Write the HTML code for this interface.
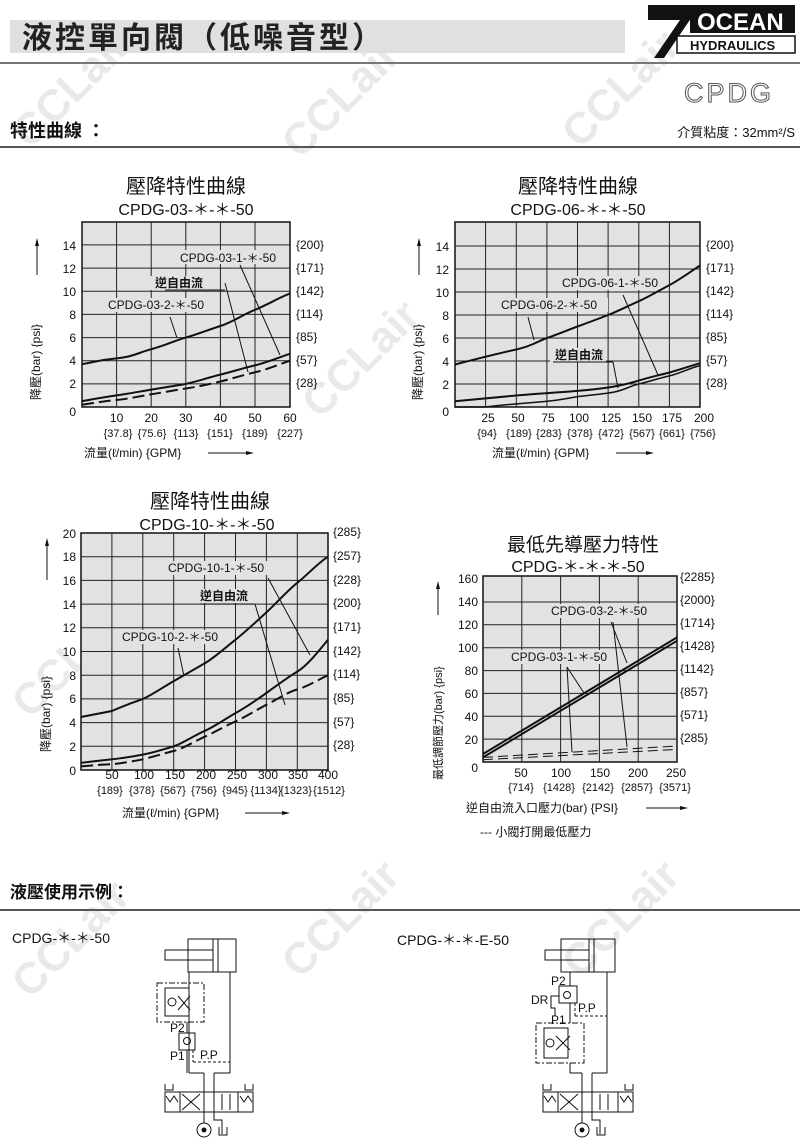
<!DOCTYPE html>
<html><head><meta charset="utf-8"><style>
html,body{margin:0;padding:0;background:#fff;}
body{width:800px;height:1147px;position:relative;overflow:hidden;font-family:"Liberation Sans","Noto Sans CJK TC",sans-serif;}
svg{position:absolute;left:0;top:0;}
text{font-family:"Liberation Sans","Noto Sans CJK TC",sans-serif;fill:#111;}
</style></head><body>
<svg width="800" height="1147" viewBox="0 0 800 1147">
<!-- watermarks -->
<g fill="#e6e6e6" font-size="44" font-weight="bold" opacity="0.8">
<text x="30" y="150" transform="rotate(-45 30 150)" style="fill:#e4e4e4">CCLair</text>
<text x="300" y="160" transform="rotate(-45 300 160)" style="fill:#e4e4e4">CCLair</text>
<text x="580" y="150" transform="rotate(-45 580 150)" style="fill:#e4e4e4">CCLair</text>
<text x="320" y="420" transform="rotate(-45 320 420)" style="fill:#e4e4e4">CCLair</text>
<text x="30" y="720" transform="rotate(-45 30 720)" style="fill:#e4e4e4">CCLair</text>
<text x="580" y="720" transform="rotate(-45 580 720)" style="fill:#e4e4e4">CCLair</text>
<text x="30" y="1000" transform="rotate(-45 30 1000)" style="fill:#e4e4e4">CCLair</text>
<text x="300" y="980" transform="rotate(-45 300 980)" style="fill:#e4e4e4">CCLair</text>
<text x="580" y="980" transform="rotate(-45 580 980)" style="fill:#e4e4e4">CCLair</text>
</g>
<!-- header -->
<rect x="10" y="20" width="615" height="33" fill="#e0e0e0"/>
<text x="22" y="48" font-size="30" font-weight="bold" letter-spacing="3" style="fill:#222">液控單向閥（低噪音型）</text>
<rect x="0" y="62" width="800" height="2" fill="#777"/>
<polygon points="648,5 700,5 664,58 654,58 680,20 648,20" fill="#111"/>
<rect x="690" y="5" width="105" height="28" fill="#111"/>
<text x="697" y="30" font-size="24" font-weight="bold" style="fill:#fff">OCEAN</text>
<rect x="677" y="36" width="118" height="17" fill="#fff" stroke="#111" stroke-width="1.5"/>
<text x="690" y="50" font-size="13" font-weight="bold">HYDRAULICS</text>
<text x="684" y="102" font-size="27" style="fill:#fff;stroke:#555;stroke-width:1" letter-spacing="3">CPDG</text>
<text x="10" y="137" font-size="18" font-weight="bold">特性曲線 ：</text>
<text x="795" y="137" font-size="13" text-anchor="end">介質粘度：32mm²/S</text>
<rect x="0" y="146" width="800" height="2" fill="#555"/>

<!-- CHART 1 -->
<g>
<text x="186" y="193" font-size="20" text-anchor="middle">壓降特性曲線</text>
<text x="186" y="215" font-size="16" text-anchor="middle">CPDG-03-＊-＊-50</text>
<rect x="82" y="222" width="208" height="185" fill="#e2e2e2" stroke="#111" stroke-width="1.5"/>
<g stroke="#222" stroke-width="1">
<line x1="116.6" y1="222" x2="116.6" y2="407"/><line x1="151.2" y1="222" x2="151.2" y2="407"/><line x1="185.8" y1="222" x2="185.8" y2="407"/><line x1="220.4" y1="222" x2="220.4" y2="407"/><line x1="255" y1="222" x2="255" y2="407"/>
<line x1="82" y1="383.9" x2="290" y2="383.9"/><line x1="82" y1="360.7" x2="290" y2="360.7"/><line x1="82" y1="337.6" x2="290" y2="337.6"/><line x1="82" y1="314.4" x2="290" y2="314.4"/><line x1="82" y1="291.2" x2="290" y2="291.2"/><line x1="82" y1="268.1" x2="290" y2="268.1"/><line x1="82" y1="244.9" x2="290" y2="244.9"/>
</g>
<rect x="160" y="250" width="128" height="14" fill="#e2e2e2"/>
<rect x="150" y="276" width="46" height="14" fill="#e2e2e2"/>
<rect x="105" y="298" width="110" height="14" fill="#e2e2e2"/>
<g fill="none" stroke="#111" stroke-width="2">
<path d="M82,364.2 C99,361 100,360 116.6,358.4 S140,352 151.2,349.2 S174,341 185.8,337.6 S208,330 220.4,326 S242,315 255,309.8 S280,297 290,293.6"/>
<path d="M82,401.2 C100,398 105,397 116.6,395.4 S140,391.5 151.2,389.6 S175,386 185.8,383.9 S210,377 220.4,374.6 S243,368 255,365.3 S280,357 290,353.8"/>
<path d="M82,404.7 C100,402 105,401 116.6,400 S140,396 151.2,394.3 S175,390 185.8,388.5 S210,384 220.4,381.5 S243,375 255,372.3 S280,364 290,360.7" stroke-dasharray="12,5"/>
</g>
<g stroke="#111" stroke-width="1"><line x1="240" y1="265" x2="280" y2="355"/><line x1="225" y1="283" x2="248" y2="372"/><line x1="170" y1="317" x2="177" y2="338"/><line x1="165" y1="290" x2="225" y2="290"/></g>
<text x="180" y="262" font-size="12">CPDG-03-1-＊-50</text>
<text x="155" y="287" font-size="12" font-weight="bold">逆自由流</text>
<text x="108" y="309" font-size="12">CPDG-03-2-＊-50</text>
<g font-size="12" text-anchor="end"><text x="76" y="250">14</text><text x="76" y="273">12</text><text x="76" y="296">10</text><text x="76" y="319">8</text><text x="76" y="342">6</text><text x="76" y="365">4</text><text x="76" y="388">2</text><text x="76" y="416">0</text></g>
<g font-size="12"><text x="296" y="249">{200}</text><text x="296" y="272">{171}</text><text x="296" y="295">{142}</text><text x="296" y="318">{114}</text><text x="296" y="341">{85}</text><text x="296" y="364">{57}</text><text x="296" y="387">{28}</text></g>
<g font-size="12" text-anchor="middle"><text x="116.6" y="422">10</text><text x="151.2" y="422">20</text><text x="185.8" y="422">30</text><text x="220.4" y="422">40</text><text x="255" y="422">50</text><text x="290" y="422">60</text></g>
<g font-size="11" text-anchor="middle"><text x="118" y="437">{37.8}</text><text x="152" y="437">{75.6}</text><text x="186" y="437">{113}</text><text x="220" y="437">{151}</text><text x="255" y="437">{189}</text><text x="290" y="437">{227}</text></g>
<text x="84" y="457" font-size="12">流量(ℓ/min) {GPM}</text>
<line x1="208" y1="453" x2="246" y2="453" stroke="#111"/><polygon points="246,451 254,453 246,455" fill="#111"/>
<text x="40" y="400" font-size="12" transform="rotate(-90 40 400)">降壓(bar) {psi}</text>
<line x1="37" y1="275" x2="37" y2="245" stroke="#111"/><polygon points="35,246 37,238 39,246" fill="#111"/>
</g>

<!-- CHART 2 -->
<g>
<text x="578" y="193" font-size="20" text-anchor="middle">壓降特性曲線</text>
<text x="578" y="215" font-size="16" text-anchor="middle">CPDG-06-＊-＊-50</text>
<rect x="455" y="222" width="245" height="185" fill="#e2e2e2" stroke="#111" stroke-width="1.5"/>
<g stroke="#222" stroke-width="1">
<line x1="485.6" y1="222" x2="485.6" y2="407"/><line x1="516.3" y1="222" x2="516.3" y2="407"/><line x1="546.9" y1="222" x2="546.9" y2="407"/><line x1="577.5" y1="222" x2="577.5" y2="407"/><line x1="608.1" y1="222" x2="608.1" y2="407"/><line x1="638.8" y1="222" x2="638.8" y2="407"/><line x1="669.4" y1="222" x2="669.4" y2="407"/>
<line x1="455" y1="384" x2="700" y2="384"/><line x1="455" y1="361" x2="700" y2="361"/><line x1="455" y1="338" x2="700" y2="338"/><line x1="455" y1="315" x2="700" y2="315"/><line x1="455" y1="292" x2="700" y2="292"/><line x1="455" y1="269" x2="700" y2="269"/><line x1="455" y1="246" x2="700" y2="246"/>
</g>
<rect x="558" y="276" width="110" height="14" fill="#e2e2e2"/>
<rect x="498" y="298" width="110" height="14" fill="#e2e2e2"/>
<rect x="550" y="348" width="56" height="14" fill="#e2e2e2"/>
<g fill="none" stroke="#111" stroke-width="2">
<path d="M455,364.5 C480,358 500,353 516.3,349.5 S538,341 546.9,338 S568,330 577.5,326.5 S598,319 608.1,315 S628,306 638.8,301.2 S660,290 669.4,285.1 S690,272 700,265.5"/>
<path d="M455,401.3 C480,399 500,397 516.3,395.5 S565,392 577.5,390.9 S598,389 608.1,387.5 S628,384 638.8,380.6 S660,375 669.4,372.5 S690,366 700,363.3"/>
<path d="M455,407 L485.6,407 C510,404 530,403 546.9,401.3 S568,398 577.5,396.7 S604,394 614.3,392 S630,386 638.8,384 S660,378 669.4,375.9 S690,368 700,365.6" stroke-width="1.5"/>
</g>
<g stroke="#111" stroke-width="1"><line x1="623" y1="295" x2="658" y2="375"/><line x1="528" y1="317" x2="534" y2="340"/><line x1="553" y1="362" x2="613" y2="362"/><line x1="613" y1="362" x2="618" y2="388"/></g>
<text x="562" y="287" font-size="12">CPDG-06-1-＊-50</text>
<text x="501" y="309" font-size="12">CPDG-06-2-＊-50</text>
<text x="555" y="359" font-size="12" font-weight="bold">逆自由流</text>
<g font-size="12" text-anchor="end"><text x="449" y="251">14</text><text x="449" y="274">12</text><text x="449" y="297">10</text><text x="449" y="320">8</text><text x="449" y="343">6</text><text x="449" y="366">4</text><text x="449" y="389">2</text><text x="449" y="416">0</text></g>
<g font-size="12"><text x="706" y="249">{200}</text><text x="706" y="272">{171}</text><text x="706" y="295">{142}</text><text x="706" y="318">{114}</text><text x="706" y="341">{85}</text><text x="706" y="364">{57}</text><text x="706" y="387">{28}</text></g>
<g font-size="12" text-anchor="middle"><text x="488" y="422">25</text><text x="518" y="422">50</text><text x="548" y="422">75</text><text x="579" y="422">100</text><text x="611" y="422">125</text><text x="642" y="422">150</text><text x="672" y="422">175</text><text x="704" y="422">200</text></g>
<g font-size="11" text-anchor="middle"><text x="487" y="437">{94}</text><text x="519" y="437">{189}</text><text x="549" y="437">{283}</text><text x="580" y="437">{378}</text><text x="611" y="437">{472}</text><text x="642" y="437">{567}</text><text x="672" y="437">{661}</text><text x="703" y="437">{756}</text></g>
<text x="492" y="457" font-size="12">流量(ℓ/min) {GPM}</text>
<line x1="616" y1="453" x2="646" y2="453" stroke="#111"/><polygon points="646,451 654,453 646,455" fill="#111"/>
<text x="422" y="400" font-size="12" transform="rotate(-90 422 400)">降壓(bar) {psi}</text>
<line x1="419" y1="275" x2="419" y2="245" stroke="#111"/><polygon points="417,246 419,238 421,246" fill="#111"/>
</g>

<!-- CHART 3 -->
<g>
<text x="210" y="508" font-size="20" text-anchor="middle">壓降特性曲線</text>
<text x="207" y="530" font-size="16" text-anchor="middle">CPDG-10-＊-＊-50</text>
<rect x="81" y="533" width="247" height="237" fill="#e2e2e2" stroke="#111" stroke-width="1.5"/>
<g stroke="#222" stroke-width="1">
<line x1="111.9" y1="533" x2="111.9" y2="770"/><line x1="142.8" y1="533" x2="142.8" y2="770"/><line x1="173.7" y1="533" x2="173.7" y2="770"/><line x1="204.6" y1="533" x2="204.6" y2="770"/><line x1="235.5" y1="533" x2="235.5" y2="770"/><line x1="266.4" y1="533" x2="266.4" y2="770"/><line x1="297.3" y1="533" x2="297.3" y2="770"/>
<line x1="81" y1="746.3" x2="328" y2="746.3"/><line x1="81" y1="722.6" x2="328" y2="722.6"/><line x1="81" y1="698.9" x2="328" y2="698.9"/><line x1="81" y1="675.2" x2="328" y2="675.2"/><line x1="81" y1="651.5" x2="328" y2="651.5"/><line x1="81" y1="627.8" x2="328" y2="627.8"/><line x1="81" y1="604.1" x2="328" y2="604.1"/><line x1="81" y1="580.4" x2="328" y2="580.4"/><line x1="81" y1="556.7" x2="328" y2="556.7"/>
</g>
<rect x="165" y="561" width="110" height="14" fill="#e2e2e2"/>
<rect x="197" y="589" width="56" height="14" fill="#e2e2e2"/>
<rect x="119" y="630" width="110" height="14" fill="#e2e2e2"/>
<g fill="none" stroke="#111" stroke-width="2">
<path d="M81,717 L111.9,711 C125,705 135,702 142.8,698.9 S165,686 173.7,681.1 S195,669 204.6,663.4 S225,648 235.5,639.7 S258,620 266.4,612.4 S288,590 297.3,582.8 S318,563 328,556.7"/>
<path d="M81,762.9 C95,761 105,760 111.9,759.3 S135,756 142.8,754.6 S165,749 173.7,746.3 S195,735 204.6,730.9 S225,719 235.5,713.1 S258,699 266.4,693 S288,677 297.3,671.6 S318,652 328,639.7"/>
<path d="M81,766.4 C95,765 105,764.5 111.9,764.1 S135,761 142.8,759.3 S165,753 173.7,751 S195,741 204.6,736.8 S225,726 235.5,721.4 S258,709 266.4,704.8 S288,692 297.3,689.4 S318,680 328,675.2" stroke-dasharray="12,5"/>
</g>
<g stroke="#111" stroke-width="1"><line x1="268" y1="578" x2="310" y2="655"/><line x1="200" y1="604" x2="255" y2="604"/><line x1="255" y1="604" x2="285" y2="705"/><line x1="178" y1="648" x2="184" y2="676"/></g>
<text x="168" y="572" font-size="12">CPDG-10-1-＊-50</text>
<text x="200" y="600" font-size="12" font-weight="bold">逆自由流</text>
<text x="122" y="641" font-size="12">CPDG-10-2-＊-50</text>
<g font-size="12" text-anchor="end"><text x="76" y="538">20</text><text x="76" y="561">18</text><text x="76" y="585">16</text><text x="76" y="609">14</text><text x="76" y="632">12</text><text x="76" y="656">10</text><text x="76" y="680">8</text><text x="76" y="703">6</text><text x="76" y="727">4</text><text x="76" y="751">2</text><text x="76" y="775">0</text></g>
<g font-size="12"><text x="333" y="536">{285}</text><text x="333" y="560">{257}</text><text x="333" y="584">{228}</text><text x="333" y="607">{200}</text><text x="333" y="631">{171}</text><text x="333" y="655">{142}</text><text x="333" y="678">{114}</text><text x="333" y="702">{85}</text><text x="333" y="726">{57}</text><text x="333" y="749">{28}</text></g>
<g font-size="12" text-anchor="middle"><text x="112" y="779">50</text><text x="144" y="779">100</text><text x="175" y="779">150</text><text x="206" y="779">200</text><text x="237" y="779">250</text><text x="268" y="779">300</text><text x="298" y="779">350</text><text x="328" y="779">400</text></g>
<g font-size="11" text-anchor="middle"><text x="110" y="794">{189}</text><text x="142" y="794">{378}</text><text x="173" y="794">{567}</text><text x="204" y="794">{756}</text><text x="235" y="794">{945}</text><text x="266" y="794">{1134}</text><text x="296" y="794">{1323}</text><text x="329" y="794">{1512}</text></g>
<text x="122" y="817" font-size="12">流量(ℓ/min) {GPM}</text>
<line x1="245" y1="813" x2="282" y2="813" stroke="#111"/><polygon points="282,811 290,813 282,815" fill="#111"/>
<text x="50" y="752" font-size="12" transform="rotate(-90 50 752)">降壓(bar) {psi}</text>
<line x1="47" y1="580" x2="47" y2="545" stroke="#111"/><polygon points="45,546 47,538 49,546" fill="#111"/>
</g>

<!-- CHART 4 -->
<g>
<text x="583" y="551" font-size="19" text-anchor="middle">最低先導壓力特性</text>
<text x="578" y="572" font-size="16" text-anchor="middle">CPDG-＊-＊-＊-50</text>
<rect x="483" y="576" width="194" height="186" fill="#e2e2e2" stroke="#111" stroke-width="1.5"/>
<g stroke="#222" stroke-width="1">
<line x1="521.8" y1="576" x2="521.8" y2="762"/><line x1="560.6" y1="576" x2="560.6" y2="762"/><line x1="599.4" y1="576" x2="599.4" y2="762"/><line x1="638.2" y1="576" x2="638.2" y2="762"/>
<line x1="483" y1="739.1" x2="677" y2="739.1"/><line x1="483" y1="716.3" x2="677" y2="716.3"/><line x1="483" y1="693.4" x2="677" y2="693.4"/><line x1="483" y1="670.6" x2="677" y2="670.6"/><line x1="483" y1="647.7" x2="677" y2="647.7"/><line x1="483" y1="624.8" x2="677" y2="624.8"/><line x1="483" y1="602" x2="677" y2="602"/>
</g>
<rect x="548" y="604" width="110" height="14" fill="#e2e2e2"/>
<rect x="508" y="650" width="110" height="14" fill="#e2e2e2"/>
<g stroke="#111" stroke-width="2"><line x1="483" y1="754" x2="677" y2="637.4"/><line x1="483" y1="757.4" x2="677" y2="640.8"/></g>
<g stroke="#111" stroke-width="1" stroke-dasharray="10,5"><line x1="483" y1="757.4" x2="677" y2="746"/><line x1="483" y1="759.7" x2="677" y2="749.4"/></g>
<g stroke="#111" stroke-width="1"><line x1="611" y1="622" x2="627" y2="663"/><line x1="613" y1="622" x2="627" y2="747"/><line x1="567" y1="667" x2="584" y2="693"/><line x1="567" y1="667" x2="572" y2="752"/></g>
<text x="551" y="615" font-size="12">CPDG-03-2-＊-50</text>
<text x="511" y="661" font-size="12">CPDG-03-1-＊-50</text>
<g font-size="12" text-anchor="end"><text x="478" y="583">160</text><text x="478" y="606">140</text><text x="478" y="629">120</text><text x="478" y="652">100</text><text x="478" y="675">80</text><text x="478" y="698">60</text><text x="478" y="721">40</text><text x="478" y="744">20</text><text x="478" y="772">0</text></g>
<g font-size="12"><text x="680" y="581">{2285}</text><text x="680" y="604">{2000}</text><text x="680" y="627">{1714}</text><text x="680" y="650">{1428}</text><text x="680" y="673">{1142}</text><text x="680" y="696">{857}</text><text x="680" y="719">{571}</text><text x="680" y="742">{285}</text></g>
<g font-size="12" text-anchor="middle"><text x="521" y="777">50</text><text x="561" y="777">100</text><text x="600" y="777">150</text><text x="638" y="777">200</text><text x="676" y="777">250</text></g>
<g font-size="11" text-anchor="middle"><text x="521" y="791">{714}</text><text x="559" y="791">{1428}</text><text x="598" y="791">{2142}</text><text x="637" y="791">{2857}</text><text x="675" y="791">{3571}</text></g>
<text x="466" y="812" font-size="12">逆自由流入口壓力(bar) {PSI}</text>
<line x1="646" y1="808" x2="680" y2="808" stroke="#111"/><polygon points="680,806 688,808 680,810" fill="#111"/>
<text x="480" y="836" font-size="12">--- 小閥打開最低壓力</text>
<text x="442" y="780" font-size="11" transform="rotate(-90 442 780)">最低調節壓力(bar) {psi}</text>
<line x1="438" y1="615" x2="438" y2="588" stroke="#111"/><polygon points="436,589 438,581 440,589" fill="#111"/>
</g>

<!-- usage examples -->
<text x="10" y="898" font-size="17" font-weight="bold">液壓使用示例：</text>
<rect x="0" y="909" width="800" height="2" fill="#555"/>
<text x="12" y="943" font-size="14">CPDG-＊-＊-50</text>
<text x="397" y="945" font-size="14">CPDG-＊-＊-E-50</text>

<g fill="none" stroke="#111" stroke-width="1">
<!-- left -->
<rect x="188" y="939" width="48" height="33"/><line x1="213" y1="939" x2="213" y2="972"/><line x1="218" y1="939" x2="218" y2="972"/>
<rect x="165" y="950" width="48" height="10"/>
<line x1="189" y1="972" x2="189" y2="1073"/><line x1="230" y1="972" x2="230" y2="1073"/>
<line x1="189" y1="1073" x2="204" y2="1073"/><line x1="204" y1="1073" x2="204" y2="1092"/><line x1="230" y1="1073" x2="214" y2="1073"/><line x1="214" y1="1073" x2="214" y2="1092"/>
<rect x="157" y="983" width="47" height="39" stroke-dasharray="6,2,2,2"/>
<rect x="165" y="988" width="24" height="28"/>
<circle cx="172" cy="1002" r="4"/><line x1="178" y1="996" x2="190" y2="1010"/><line x1="178" y1="1010" x2="190" y2="996"/>
<rect x="179" y="1033" width="16" height="17"/><circle cx="187" cy="1041" r="3.5"/>
<line x1="187" y1="1022" x2="187" y2="1033"/><line x1="187" y1="1050" x2="187" y2="1073"/>
<line x1="193" y1="1062" x2="230" y2="1062" stroke-dasharray="3,2"/><line x1="193" y1="1050" x2="193" y2="1062" stroke-dasharray="3,2"/>
<rect x="165" y="1092" width="88" height="20"/><line x1="180" y1="1092" x2="180" y2="1112"/><line x1="238" y1="1092" x2="238" y2="1112"/><line x1="204" y1="1092" x2="204" y2="1112"/><line x1="214" y1="1092" x2="214" y2="1112"/>
<line x1="182" y1="1094" x2="200" y2="1110"/><line x1="182" y1="1110" x2="200" y2="1094"/>
<line x1="222" y1="1094" x2="222" y2="1110"/><line x1="230" y1="1094" x2="230" y2="1110"/>
<path d="M165,1084 v6 h8 v-6 M245,1084 v6 h8 v-6"/>
<path d="M166,1096 l4,6 l4,-6 l4,6 M240,1096 l4,6 l4,-6 l4,6"/>
<line x1="204" y1="1112" x2="204" y2="1123"/><circle cx="204" cy="1130" r="7"/>
<path d="M214,1112 v8 h8 v14 M219,1127 v8 h8 v-8"/>
<!-- right -->
<rect x="561" y="939" width="54" height="33"/><line x1="589" y1="939" x2="589" y2="972"/><line x1="594" y1="939" x2="594" y2="972"/>
<rect x="545" y="950" width="44" height="10"/>
<line x1="570" y1="972" x2="570" y2="986"/><line x1="607" y1="972" x2="607" y2="1073"/>
<rect x="559" y="986" width="18" height="17"/><circle cx="567" cy="995" r="3.5"/>
<path d="M559,996 h-8 v12 h4 v8"/>
<line x1="570" y1="1003" x2="570" y2="1023"/>
<line x1="575" y1="1003" x2="575" y2="1016" stroke-dasharray="3,2"/><line x1="575" y1="1016" x2="607" y2="1016" stroke-dasharray="3,2"/>
<rect x="536" y="1023" width="48" height="40" stroke-dasharray="6,2,2,2"/>
<rect x="544" y="1028" width="24" height="30"/>
<circle cx="550" cy="1043" r="4"/><line x1="556" y1="1036" x2="570" y2="1050"/><line x1="556" y1="1050" x2="570" y2="1036"/>
<line x1="570" y1="1063" x2="570" y2="1073"/>
<line x1="570" y1="1073" x2="582" y2="1073"/><line x1="582" y1="1073" x2="582" y2="1092"/><line x1="607" y1="1073" x2="592" y2="1073"/><line x1="592" y1="1073" x2="592" y2="1092"/>
<rect x="543" y="1092" width="90" height="20"/><line x1="558" y1="1092" x2="558" y2="1112"/><line x1="618" y1="1092" x2="618" y2="1112"/><line x1="582" y1="1092" x2="582" y2="1112"/><line x1="592" y1="1092" x2="592" y2="1112"/>
<line x1="560" y1="1094" x2="578" y2="1110"/><line x1="560" y1="1110" x2="578" y2="1094"/>
<line x1="600" y1="1094" x2="600" y2="1110"/><line x1="608" y1="1094" x2="608" y2="1110"/>
<path d="M543,1084 v6 h8 v-6 M625,1084 v6 h8 v-6"/>
<path d="M544,1096 l4,6 l4,-6 l4,6 M620,1096 l4,6 l4,-6 l4,6"/>
<line x1="582" y1="1112" x2="582" y2="1123"/><circle cx="582" cy="1130" r="7"/>
<path d="M592,1112 v8 h8 v14 M597,1127 v8 h8 v-8"/>
</g>
<circle cx="204" cy="1130" r="2.5" fill="#111"/><circle cx="582" cy="1130" r="2.5" fill="#111"/>
<g font-size="12"><text x="170" y="1032">P2</text><text x="170" y="1060">P1</text><text x="200" y="1059">P.P</text>
<text x="551" y="985">P2</text><text x="531" y="1004">DR</text><text x="578" y="1012">P.P</text><text x="551" y="1024">P1</text></g>
</svg>
</body></html>
